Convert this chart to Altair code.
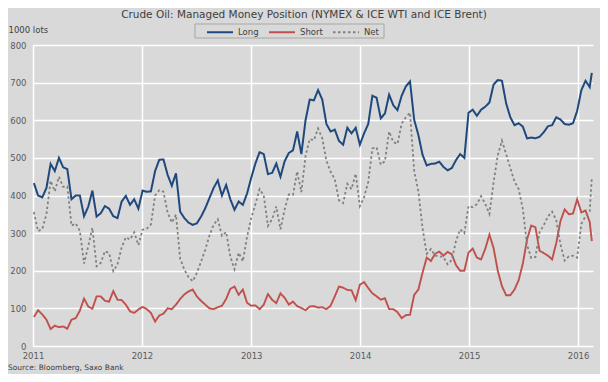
import altair as alt
import pandas as pd

series_names = ["Long", "Short", "Net"]
series_colors = ["#1f497d", "#c0504d", "#808080"]
years = [2011, 2012, 2013, 2014, 2015, 2016]
y_ticks = [0, 100, 200, 300, 400, 500, 600, 700, 800]

title_text = "Crude Oil: Managed Money Position (NYMEX & ICE WTI and ICE Brent)"
source_text = "Source: Bloomberg, Saxo Bank"

# bi-weekly readings (1000 lots)
long_2011 = [433, 400, 395, 420, 484, 465, 500, 475, 470, 390, 400, 400, 345, 370, 413, 344, 353, 372, 365, 345, 340, 384, 399, 375, 390, 365]
long_2012 = [413, 410, 411, 465, 495, 496, 455, 426, 459, 357, 340, 328, 322, 326, 344, 366, 393, 420, 440, 400, 428, 390, 362, 384, 375, 405]
long_2013 = [447, 485, 515, 510, 457, 460, 485, 450, 491, 513, 520, 570, 510, 600, 655, 653, 680, 655, 590, 570, 575, 545, 535, 580, 565, 580]
long_2014 = [535, 565, 590, 665, 660, 605, 618, 668, 640, 627, 665, 690, 703, 601, 561, 508, 480, 484, 485, 490, 476, 467, 473, 494, 510, 500]
long_2015 = [620, 628, 612, 628, 636, 647, 695, 707, 705, 645, 608, 587, 592, 583, 552, 554, 552, 556, 568, 584, 587, 608, 602, 590, 588, 592]
long_2016 = [625, 680, 705, 688, 726]

short_2011 = [77, 95, 84, 70, 45, 54, 50, 52, 46, 70, 74, 94, 126, 105, 99, 132, 132, 120, 118, 146, 123, 122, 110, 92, 88, 97]
short_2012 = [104, 98, 88, 65, 81, 86, 100, 98, 110, 125, 137, 145, 150, 132, 120, 110, 100, 98, 103, 107, 125, 152, 158, 136, 150, 115]
short_2013 = [107, 108, 98, 110, 138, 123, 114, 140, 128, 110, 118, 106, 101, 95, 105, 106, 102, 103, 98, 107, 132, 158, 155, 149, 148, 122]
short_2014 = [163, 170, 154, 140, 132, 123, 127, 98, 98, 90, 74, 82, 83, 136, 150, 195, 235, 226, 245, 251, 240, 250, 244, 215, 200, 200]
short_2015 = [248, 259, 235, 230, 258, 296, 260, 200, 159, 135, 135, 150, 175, 219, 283, 320, 316, 253, 247, 240, 230, 274, 332, 363, 350, 352]
short_2016 = [390, 355, 360, 330, 279]

net_2011 = [356, 305, 311, 350, 439, 411, 450, 423, 424, 320, 326, 306, 219, 265, 314, 212, 221, 252, 247, 199, 217, 262, 289, 283, 302, 268]
net_2012 = [309, 312, 323, 400, 414, 410, 355, 328, 349, 232, 203, 183, 172, 194, 224, 256, 293, 322, 337, 293, 303, 238, 204, 248, 225, 290]
net_2013 = [340, 377, 417, 400, 319, 337, 371, 310, 363, 403, 402, 464, 409, 505, 550, 547, 578, 552, 492, 463, 443, 387, 380, 431, 417, 458]
net_2014 = [372, 395, 436, 525, 528, 482, 491, 570, 542, 537, 591, 608, 620, 465, 411, 313, 245, 258, 240, 239, 236, 217, 229, 279, 310, 300]
net_2015 = [372, 369, 377, 398, 378, 351, 435, 507, 546, 510, 473, 437, 417, 364, 269, 234, 236, 303, 321, 344, 357, 334, 270, 227, 238, 240]
net_2016 = [235, 325, 345, 358, 447]

long_vals = long_2011 + long_2012 + long_2013 + long_2014 + long_2015 + long_2016
short_vals = short_2011 + short_2012 + short_2013 + short_2014 + short_2015 + short_2016
net_vals = net_2011 + net_2012 + net_2013 + net_2014 + net_2015 + net_2016

dates = list(pd.date_range("2011-01-04", periods=134, freq="14D")) + [pd.Timestamp("2016-02-16")]

rows = []
for name, vals in zip(series_names, [long_vals, short_vals, net_vals]):
    for d, v in zip(dates, vals):
        rows.append({"date": d.strftime("%Y-%m-%d"), "value": v, "series": name})
df = pd.DataFrame(rows)

FONT = "DejaVu Sans"

legend = alt.Legend(
    title=None,
    orient="none",
    legendX=173,
    legendY=-19,
    direction="horizontal",
    symbolType="M-2.6,0H2.6",
    symbolSize=100,
    symbolOffset=8,
    symbolStrokeWidth=2,
    labelFont=FONT,
    labelFontSize=8.5,
    labelColor="#404040",
    labelOffset=12,
    columnPadding=6,
    padding=0,
)

lines = alt.Chart(df).mark_line(strokeCap="butt").encode(
    x=alt.X(
        "date:T",
        scale=alt.Scale(domain=[alt.DateTime(year=2011, month=1, date=1),
                                alt.DateTime(year=2016, month=2, date=20)]),
        axis=alt.Axis(
            values=[alt.DateTime(year=y, month=1, date=1) for y in years],
            format="%Y", title=None, domain=False, ticks=False, labelFlush=False,
            labelPadding=5, labelFont=FONT, labelFontSize=8.5, labelColor="#595959",
            grid=True, gridColor="#ffffff", gridWidth=1.5,
        ),
    ),
    y=alt.Y(
        "value:Q",
        scale=alt.Scale(domain=[0, 800], nice=False),
        axis=alt.Axis(
            values=y_ticks, title="1000 lots", titleAngle=0, titleX=-25, titleY=-16,
            titleAlign="left", titleBaseline="middle", titleFont=FONT, titleFontSize=8.5,
            titleFontWeight="normal", titleColor="#404040",
            domain=False, ticks=False, labelPadding=7, labelFont=FONT, labelFontSize=8.5,
            labelColor="#595959", grid=True, gridColor="#ffffff", gridWidth=1.5,
        ),
    ),
    color=alt.Color("series:N", scale=alt.Scale(domain=series_names, range=series_colors), legend=legend),
    strokeDash=alt.StrokeDash("series:N", scale=alt.Scale(domain=series_names, range=[[1, 0], [1, 0], [2.5, 2.5]]), legend=legend),
    strokeWidth=alt.StrokeWidth("series:N", scale=alt.Scale(domain=series_names, range=[2.0, 1.8, 2.5]), legend=None),
)

legend_box = alt.Chart(pd.DataFrame({"k": [0]})).mark_rect(
    fill="#d9d9d9", stroke="#a6a6a6", strokeWidth=1
).encode(x=alt.value(162), x2=alt.value(351), y=alt.value(-21), y2=alt.value(-7))

source = alt.Chart(pd.DataFrame({"t": [source_text]})).mark_text(
    align="left", baseline="middle", font=FONT, fontSize=7.5, color="#404040"
).encode(x=alt.value(-25), y=alt.value(323), text="t:N")

chart = alt.layer(legend_box, lines, source).properties(
    width=560,
    height=301,
    autosize=alt.AutoSizeParams(type="none"),
    padding={"left": 25, "top": 37, "right": 7, "bottom": 28},
    background="#d9d9d9",
    title=alt.TitleParams(
        title_text, font=FONT, fontSize=10.5, fontWeight="normal", color="#404040",
        anchor="middle", frame="group", offset=3, dx=-9,
    ),
).configure_view(stroke=None, fill="#d9d9d9")

chart.save("out.html", embed_options={"renderer": "svg", "actions": False})
